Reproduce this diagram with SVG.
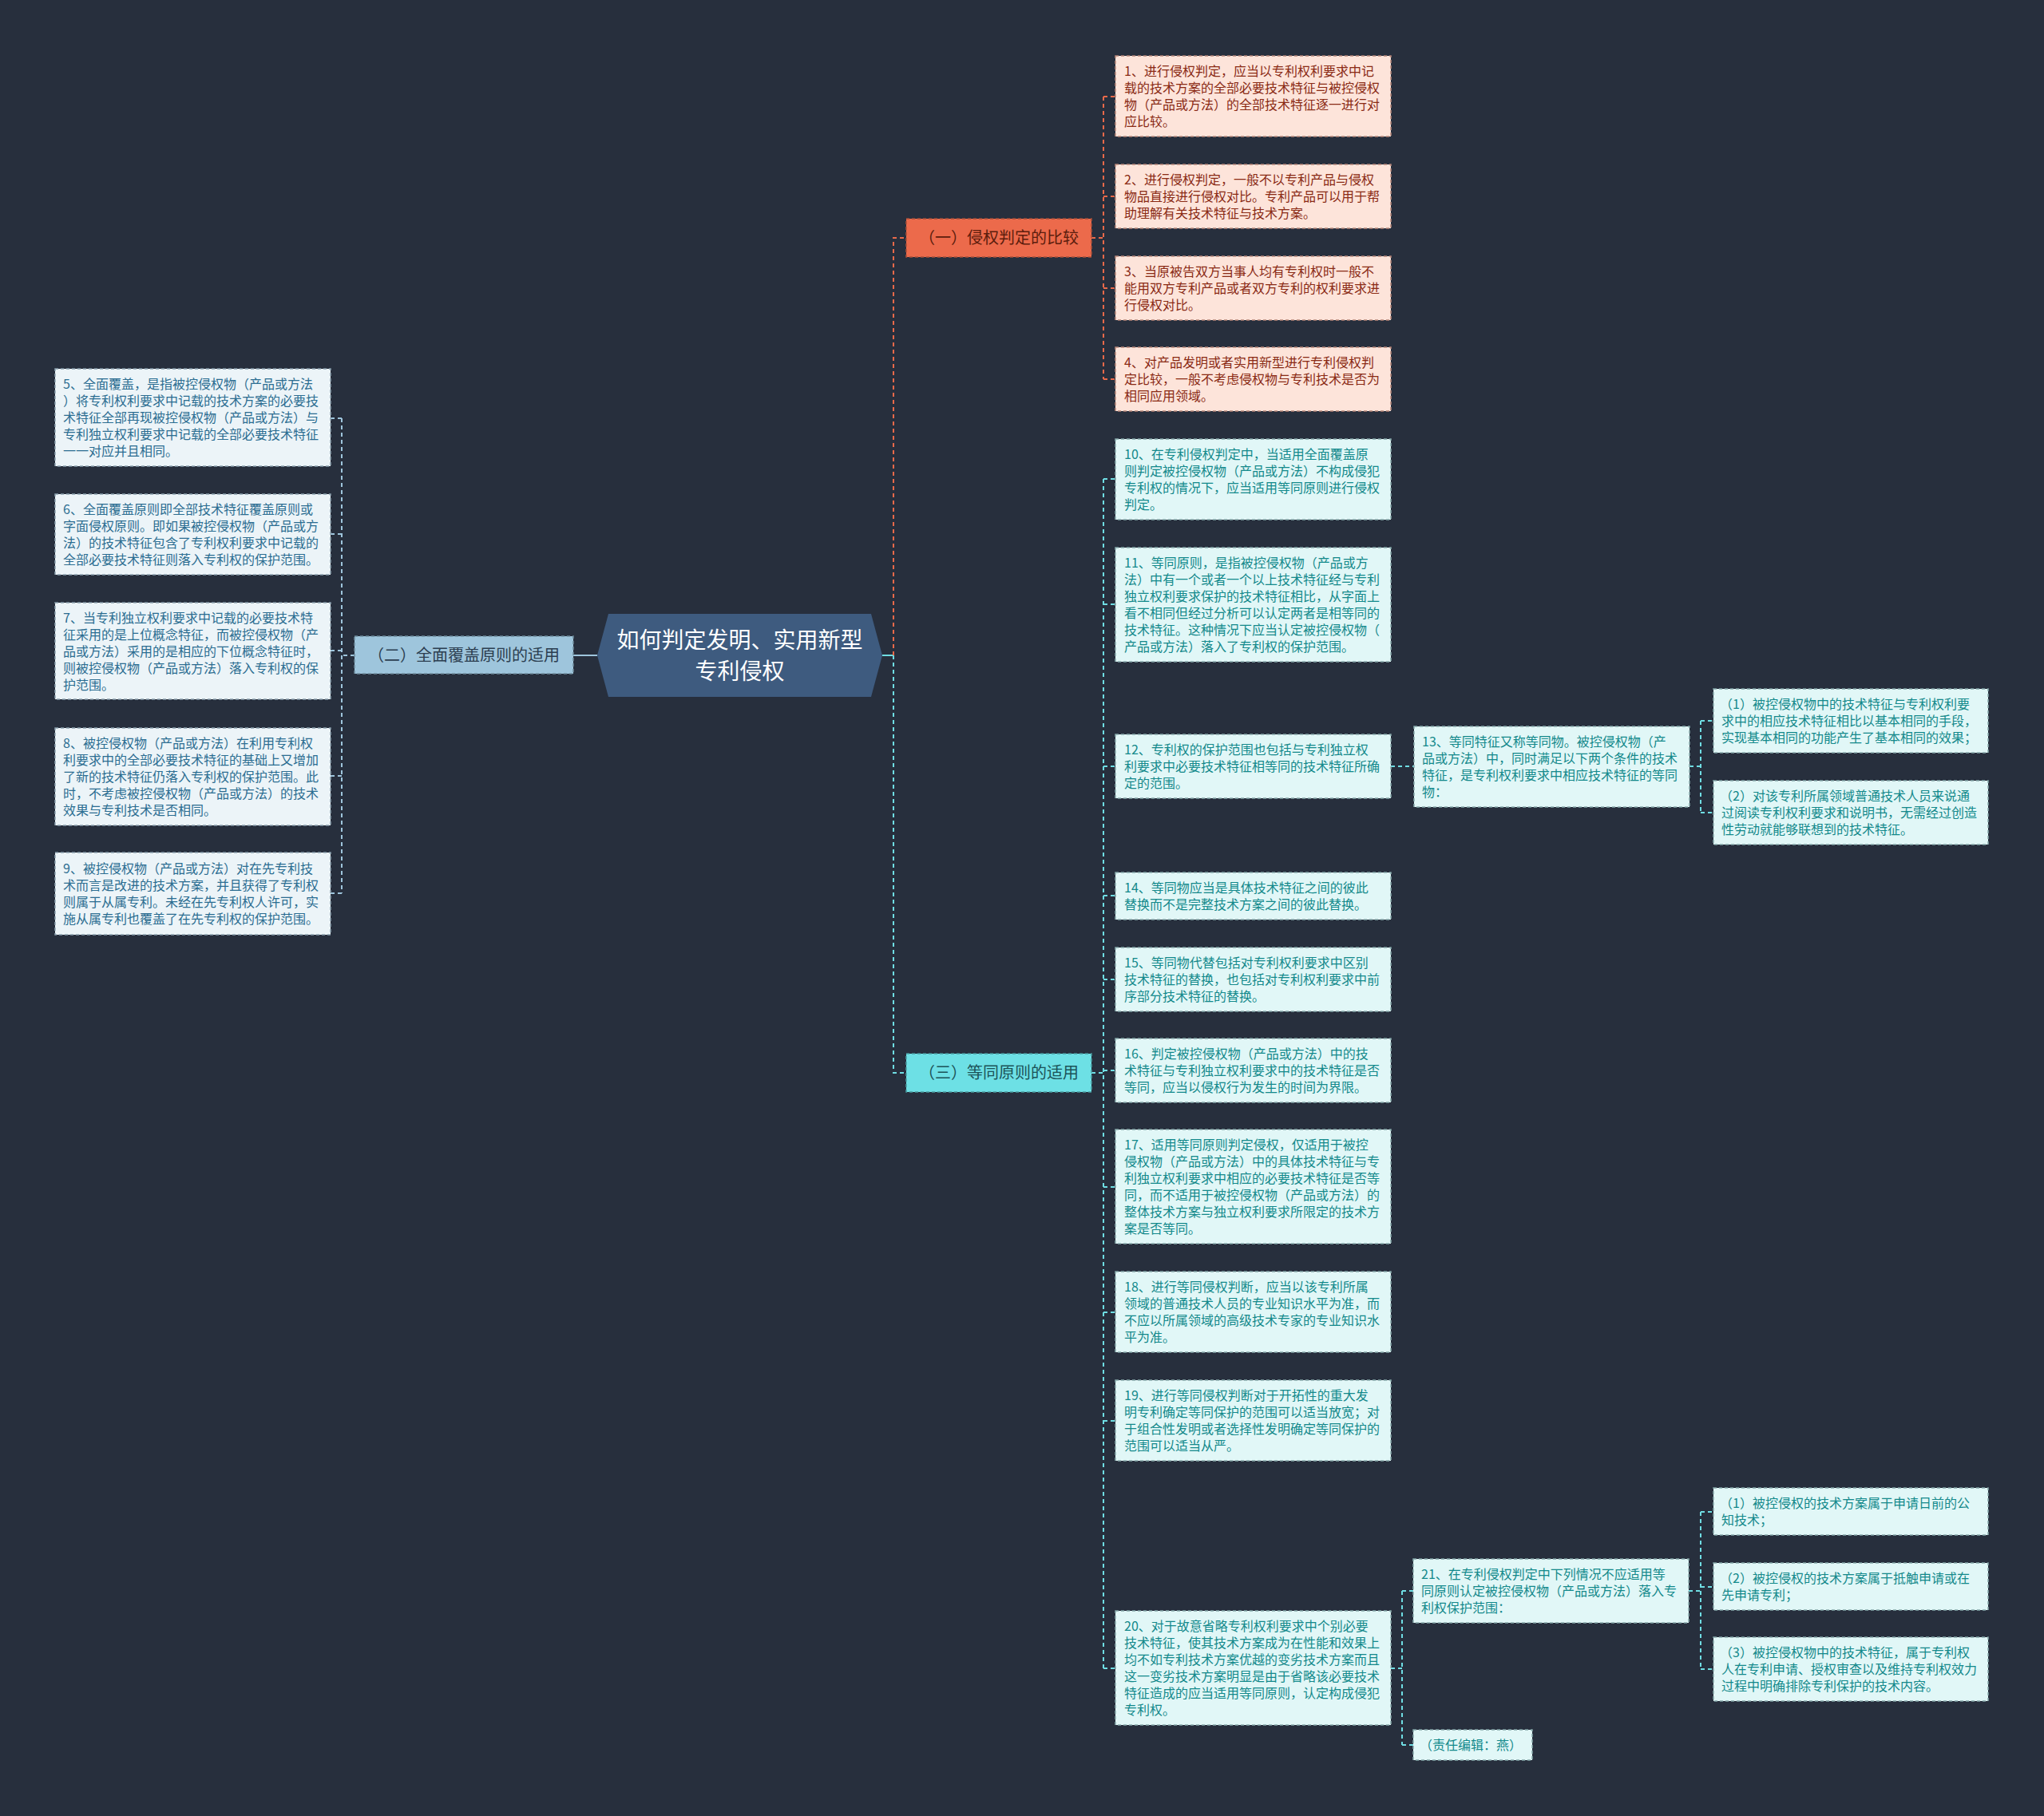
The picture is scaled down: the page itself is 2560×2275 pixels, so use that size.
<svg xmlns="http://www.w3.org/2000/svg" width="2560" height="2275" viewBox="0 0 2560 2275">
<style>
text{font-family:"Noto Sans CJK SC","Noto Sans",sans-serif;}
.leaf{font-size:16px;}
.box{stroke-width:1.5;stroke-dasharray:4 3;}
.peach rect{fill:#fde4da;stroke:#b7877a;}
.peach text{fill:#8a2a14;}
.lb rect{fill:#ecf4f8;stroke:#8aa0ad;}
.lb text{fill:#2b6d91;}
.cy rect{fill:#e1f7f7;stroke:#86a9ab;}
.cy text{fill:#13898b;}
.br text{font-size:20px;text-anchor:middle;}
.c{fill:none;stroke-width:2;stroke-dasharray:5 4;}
.co{stroke:#e8694a;}
.cc{stroke:#6fdde3;}
.cb{stroke:#9ec5dc;}
</style>
<rect width="2560" height="2275" fill="#272f3d"/>
<g id="connectors">
<path class="c cb" d="M718 821H748" style="stroke-dasharray:none"/>
<path class="c cb" d="M444 821H428M428 524V1119M428 524H414M428 669H414M428 815H414M428 972H414M428 1119H414"/>
<path class="c cc" d="M1105 821H1119" style="stroke-dasharray:none"/>
<path class="c co" d="M1119 821V298H1135"/>
<path class="c cc" d="M1119 821V1344H1135"/>
<path class="c co" d="M1367 298H1382M1382 121V475M1382 121H1397M1382 246H1397M1382 361H1397M1382 475H1397"/>
<path class="c cc" d="M1367 1344H1382M1382 600V2090M1382 600H1397M1382 757H1397M1382 960H1397M1382 1122H1397M1382 1227H1397M1382 1341H1397M1382 1487H1397M1382 1644H1397M1382 1780H1397M1382 2090H1397"/>
<path class="c cc" d="M1742 960H1771"/>
<path class="c cc" d="M2116 960H2130M2130 903V1018M2130 903H2146M2130 1018H2146"/>
<path class="c cc" d="M1742 2090H1756M1756 1993V2186M1756 1993H1770M1756 2186H1770"/>
<path class="c cc" d="M2115 1993H2130M2130 1894V2091M2130 1894H2146M2130 1988H2146M2130 2091H2146"/>
</g>
<g id="center">
<polygon points="748,821 762,769 1091,769 1105,821 1091,873 762,873" fill="#3e5b7f"/>
<text x="926.5" y="812" font-size="28" fill="#ffffff" text-anchor="middle">如何判定发明、实用新型</text>
<text x="926.5" y="851" font-size="28" fill="#ffffff" text-anchor="middle">专利侵权</text>
</g>
<g id="b1" class="br">
<rect x="1135" y="274" width="232" height="48" fill="#ec6a4b" stroke="#a9503a" stroke-width="1.5" stroke-dasharray="4 3"/>
<text x="1251" y="305" fill="#5c1d0d">（一）侵权判定的比较</text>
</g>
<g id="b2" class="br">
<rect x="444" y="797" width="274" height="47" fill="#9ec5dc" stroke="#6e8a9b" stroke-width="1.5" stroke-dasharray="4 3"/>
<text x="581" y="828" fill="#2c3e50">（二）全面覆盖原则的适用</text>
</g>
<g id="b3" class="br">
<rect x="1135" y="1320" width="232" height="48" fill="#6de0e5" stroke="#4a9ca0" stroke-width="1.5" stroke-dasharray="4 3"/>
<text x="1251" y="1351" fill="#1c5358">（三）等同原则的适用</text>
</g>
<g id="n1" class="peach leaf"><rect class="box" x="1397" y="70" width="345" height="101"/>
<text y="95"><tspan x="1408">1、进行侵权判定，应当以专利权利要求中记</tspan><tspan x="1408" dy="21">载的技术方案的全部必要技术特征与被控侵权</tspan><tspan x="1408" dy="21">物（产品或方法）的全部技术特征逐一进行对</tspan><tspan x="1408" dy="21">应比较。</tspan></text></g>
<g id="n2" class="peach leaf"><rect class="box" x="1397" y="206" width="345" height="80"/>
<text y="231"><tspan x="1408">2、进行侵权判定，一般不以专利产品与侵权</tspan><tspan x="1408" dy="21">物品直接进行侵权对比。专利产品可以用于帮</tspan><tspan x="1408" dy="21">助理解有关技术特征与技术方案。</tspan></text></g>
<g id="n3" class="peach leaf"><rect class="box" x="1397" y="321" width="345" height="80"/>
<text y="346"><tspan x="1408">3、当原被告双方当事人均有专利权时一般不</tspan><tspan x="1408" dy="21">能用双方专利产品或者双方专利的权利要求进</tspan><tspan x="1408" dy="21">行侵权对比。</tspan></text></g>
<g id="n4" class="peach leaf"><rect class="box" x="1397" y="435" width="345" height="80"/>
<text y="460"><tspan x="1408">4、对产品发明或者实用新型进行专利侵权判</tspan><tspan x="1408" dy="21">定比较，一般不考虑侵权物与专利技术是否为</tspan><tspan x="1408" dy="21">相同应用领域。</tspan></text></g>
<g id="n5" class="lb leaf"><rect class="box" x="69" y="462" width="345" height="122"/>
<text y="487"><tspan x="79">5、全面覆盖，是指被控侵权物（产品或方法</tspan><tspan x="79" dy="21">）将专利权利要求中记载的技术方案的必要技</tspan><tspan x="79" dy="21">术特征全部再现被控侵权物（产品或方法）与</tspan><tspan x="79" dy="21">专利独立权利要求中记载的全部必要技术特征</tspan><tspan x="79" dy="21">一一对应并且相同。</tspan></text></g>
<g id="n6" class="lb leaf"><rect class="box" x="69" y="619" width="345" height="101"/>
<text y="644"><tspan x="79">6、全面覆盖原则即全部技术特征覆盖原则或</tspan><tspan x="79" dy="21">字面侵权原则。即如果被控侵权物（产品或方</tspan><tspan x="79" dy="21">法）的技术特征包含了专利权利要求中记载的</tspan><tspan x="79" dy="21">全部必要技术特征则落入专利权的保护范围。</tspan></text></g>
<g id="n7" class="lb leaf"><rect class="box" x="69" y="755" width="345" height="121"/>
<text y="780"><tspan x="79">7、当专利独立权利要求中记载的必要技术特</tspan><tspan x="79" dy="21">征采用的是上位概念特征，而被控侵权物（产</tspan><tspan x="79" dy="21">品或方法）采用的是相应的下位概念特征时，</tspan><tspan x="79" dy="21">则被控侵权物（产品或方法）落入专利权的保</tspan><tspan x="79" dy="21">护范围。</tspan></text></g>
<g id="n8" class="lb leaf"><rect class="box" x="69" y="912" width="345" height="122"/>
<text y="937"><tspan x="79">8、被控侵权物（产品或方法）在利用专利权</tspan><tspan x="79" dy="21">利要求中的全部必要技术特征的基础上又增加</tspan><tspan x="79" dy="21">了新的技术特征仍落入专利权的保护范围。此</tspan><tspan x="79" dy="21">时，不考虑被控侵权物（产品或方法）的技术</tspan><tspan x="79" dy="21">效果与专利技术是否相同。</tspan></text></g>
<g id="n9" class="lb leaf"><rect class="box" x="69" y="1068" width="345" height="103"/>
<text y="1094"><tspan x="79">9、被控侵权物（产品或方法）对在先专利技</tspan><tspan x="79" dy="21">术而言是改进的技术方案，并且获得了专利权</tspan><tspan x="79" dy="21">则属于从属专利。未经在先专利权人许可，实</tspan><tspan x="79" dy="21">施从属专利也覆盖了在先专利权的保护范围。</tspan></text></g>
<g id="n10" class="cy leaf"><rect class="box" x="1397" y="550" width="345" height="101"/>
<text y="575"><tspan x="1408">10、在专利侵权判定中，当适用全面覆盖原</tspan><tspan x="1408" dy="21">则判定被控侵权物（产品或方法）不构成侵犯</tspan><tspan x="1408" dy="21">专利权的情况下，应当适用等同原则进行侵权</tspan><tspan x="1408" dy="21">判定。</tspan></text></g>
<g id="n11" class="cy leaf"><rect class="box" x="1397" y="686" width="345" height="143"/>
<text y="711"><tspan x="1408">11、等同原则，是指被控侵权物（产品或方</tspan><tspan x="1408" dy="21">法）中有一个或者一个以上技术特征经与专利</tspan><tspan x="1408" dy="21">独立权利要求保护的技术特征相比，从字面上</tspan><tspan x="1408" dy="21">看不相同但经过分析可以认定两者是相等同的</tspan><tspan x="1408" dy="21">技术特征。这种情况下应当认定被控侵权物（</tspan><tspan x="1408" dy="21">产品或方法）落入了专利权的保护范围。</tspan></text></g>
<g id="n12" class="cy leaf"><rect class="box" x="1397" y="920" width="345" height="80"/>
<text y="945"><tspan x="1408">12、专利权的保护范围也包括与专利独立权</tspan><tspan x="1408" dy="21">利要求中必要技术特征相等同的技术特征所确</tspan><tspan x="1408" dy="21">定的范围。</tspan></text></g>
<g id="n13" class="cy leaf"><rect class="box" x="1771" y="910" width="345" height="101"/>
<text y="935"><tspan x="1781">13、等同特征又称等同物。被控侵权物（产</tspan><tspan x="1781" dy="21">品或方法）中，同时满足以下两个条件的技术</tspan><tspan x="1781" dy="21">特征，是专利权利要求中相应技术特征的等同</tspan><tspan x="1781" dy="21">物：</tspan></text></g>
<g id="n13a" class="cy leaf"><rect class="box" x="2146" y="863" width="344" height="80"/>
<text y="888"><tspan x="2154">（1）被控侵权物中的技术特征与专利权利要</tspan><tspan x="2156" dy="21">求中的相应技术特征相比以基本相同的手段，</tspan><tspan x="2156" dy="21">实现基本相同的功能产生了基本相同的效果；</tspan></text></g>
<g id="n13b" class="cy leaf"><rect class="box" x="2146" y="978" width="344" height="80"/>
<text y="1003"><tspan x="2154">（2）对该专利所属领域普通技术人员来说通</tspan><tspan x="2156" dy="21">过阅读专利权利要求和说明书，无需经过创造</tspan><tspan x="2156" dy="21">性劳动就能够联想到的技术特征。</tspan></text></g>
<g id="n14" class="cy leaf"><rect class="box" x="1397" y="1093" width="345" height="59"/>
<text y="1118"><tspan x="1408">14、等同物应当是具体技术特征之间的彼此</tspan><tspan x="1408" dy="21">替换而不是完整技术方案之间的彼此替换。</tspan></text></g>
<g id="n15" class="cy leaf"><rect class="box" x="1397" y="1187" width="345" height="80"/>
<text y="1212"><tspan x="1408">15、等同物代替包括对专利权利要求中区别</tspan><tspan x="1408" dy="21">技术特征的替换，也包括对专利权利要求中前</tspan><tspan x="1408" dy="21">序部分技术特征的替换。</tspan></text></g>
<g id="n16" class="cy leaf"><rect class="box" x="1397" y="1301" width="345" height="80"/>
<text y="1326"><tspan x="1408">16、判定被控侵权物（产品或方法）中的技</tspan><tspan x="1408" dy="21">术特征与专利独立权利要求中的技术特征是否</tspan><tspan x="1408" dy="21">等同，应当以侵权行为发生的时间为界限。</tspan></text></g>
<g id="n17" class="cy leaf"><rect class="box" x="1397" y="1415" width="345" height="143"/>
<text y="1440"><tspan x="1408">17、适用等同原则判定侵权，仅适用于被控</tspan><tspan x="1408" dy="21">侵权物（产品或方法）中的具体技术特征与专</tspan><tspan x="1408" dy="21">利独立权利要求中相应的必要技术特征是否等</tspan><tspan x="1408" dy="21">同，而不适用于被控侵权物（产品或方法）的</tspan><tspan x="1408" dy="21">整体技术方案与独立权利要求所限定的技术方</tspan><tspan x="1408" dy="21">案是否等同。</tspan></text></g>
<g id="n18" class="cy leaf"><rect class="box" x="1397" y="1593" width="345" height="101"/>
<text y="1618"><tspan x="1408">18、进行等同侵权判断，应当以该专利所属</tspan><tspan x="1408" dy="21">领域的普通技术人员的专业知识水平为准，而</tspan><tspan x="1408" dy="21">不应以所属领域的高级技术专家的专业知识水</tspan><tspan x="1408" dy="21">平为准。</tspan></text></g>
<g id="n19" class="cy leaf"><rect class="box" x="1397" y="1729" width="345" height="101"/>
<text y="1754"><tspan x="1408">19、进行等同侵权判断对于开拓性的重大发</tspan><tspan x="1408" dy="21">明专利确定等同保护的范围可以适当放宽；对</tspan><tspan x="1408" dy="21">于组合性发明或者选择性发明确定等同保护的</tspan><tspan x="1408" dy="21">范围可以适当从严。</tspan></text></g>
<g id="n20" class="cy leaf"><rect class="box" x="1397" y="2018" width="345" height="143"/>
<text y="2043"><tspan x="1408">20、对于故意省略专利权利要求中个别必要</tspan><tspan x="1408" dy="21">技术特征，使其技术方案成为在性能和效果上</tspan><tspan x="1408" dy="21">均不如专利技术方案优越的变劣技术方案而且</tspan><tspan x="1408" dy="21">这一变劣技术方案明显是由于省略该必要技术</tspan><tspan x="1408" dy="21">特征造成的应当适用等同原则，认定构成侵犯</tspan><tspan x="1408" dy="21">专利权。</tspan></text></g>
<g id="n21" class="cy leaf"><rect class="box" x="1770" y="1953" width="345" height="80"/>
<text y="1978"><tspan x="1780">21、在专利侵权判定中下列情况不应适用等</tspan><tspan x="1780" dy="21">同原则认定被控侵权物（产品或方法）落入专</tspan><tspan x="1780" dy="21">利权保护范围：</tspan></text></g>
<g id="n21a" class="cy leaf"><rect class="box" x="2146" y="1864" width="344" height="59"/>
<text y="1889"><tspan x="2154">（1）被控侵权的技术方案属于申请日前的公</tspan><tspan x="2156" dy="21">知技术；</tspan></text></g>
<g id="n21b" class="cy leaf"><rect class="box" x="2146" y="1958" width="344" height="59"/>
<text y="1983"><tspan x="2154">（2）被控侵权的技术方案属于抵触申请或在</tspan><tspan x="2156" dy="21">先申请专利；</tspan></text></g>
<g id="n21c" class="cy leaf"><rect class="box" x="2146" y="2051" width="344" height="80"/>
<text y="2076"><tspan x="2154">（3）被控侵权物中的技术特征，属于专利权</tspan><tspan x="2156" dy="21">人在专利申请、授权审查以及维持专利权效力</tspan><tspan x="2156" dy="21">过程中明确排除专利保护的技术内容。</tspan></text></g>
<g id="editor" class="cy leaf"><rect class="box" x="1770" y="2167" width="149" height="38"/>
<text y="2192"><tspan x="1778">（责任编辑：燕）</tspan></text></g>
</svg>
